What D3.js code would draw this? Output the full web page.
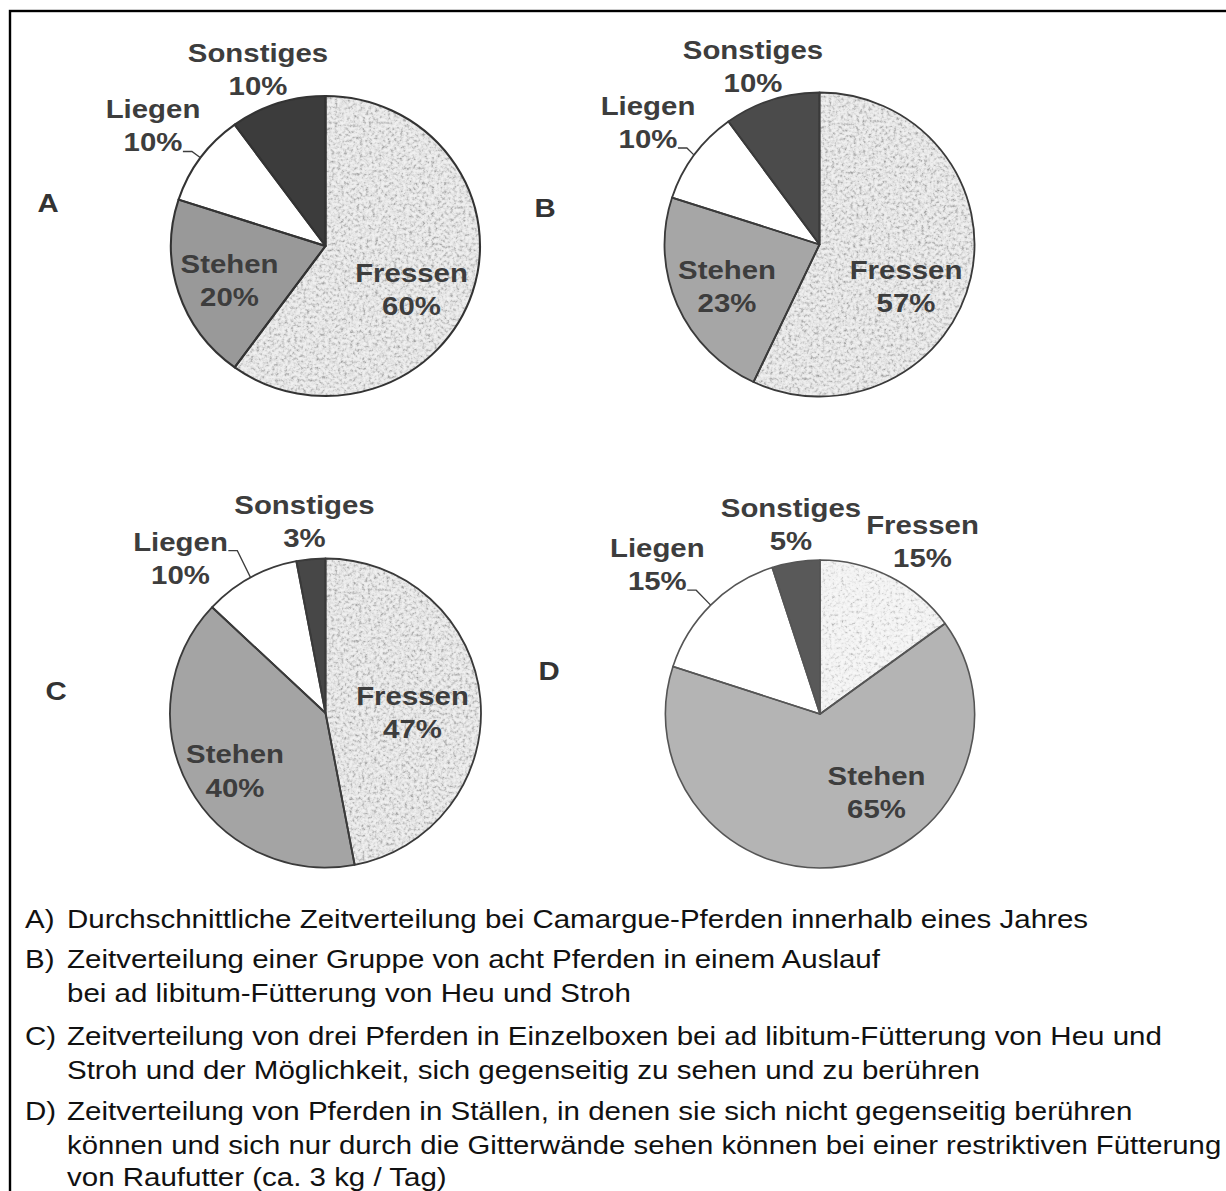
<!DOCTYPE html>
<html lang="de">
<head>
<meta charset="utf-8">
<title>Zeitverteilung bei Pferden</title>
<script src="https://cdn.jsdelivr.net/npm/d3@7/dist/d3.min.js"></script>
<style>
  html, body { margin: 0; padding: 0; background: #fff; }
  svg { display: block; }
  .lbl { font-family: "Liberation Sans", Arial, sans-serif; font-weight: bold; font-size: 26px; fill: #3d3d3d; }
  .panel { font-family: "Liberation Sans", Arial, sans-serif; font-weight: bold; font-size: 26px; fill: #333; }
  .cap { font-family: "Liberation Sans", Arial, sans-serif; font-size: 25px; fill: #111; }
</style>
</head>
<body>
<script>
// ---- data ----
const panels = ["A", "B", "C", "D"];
const categories = ["Fressen", "Stehen", "Liegen", "Sonstiges"];
const valuesA = [60, 20, 10, 10];
const valuesB = [57, 23, 10, 10];
const valuesC = [47, 40, 10, 3];
const valuesD = [15, 65, 15, 5];
const seriesValues = [valuesA, valuesB, valuesC, valuesD];

const captionMarks = ["A)", "B)", "", "C)", "", "D)", "", ""];
const captionLines = [
  "Durchschnittliche Zeitverteilung bei Camargue-Pferden innerhalb eines Jahres",
  "Zeitverteilung einer Gruppe von acht Pferden in einem Auslauf",
  "bei ad libitum-Fütterung von Heu und Stroh",
  "Zeitverteilung von drei Pferden in Einzelboxen bei ad libitum-Fütterung von Heu und",
  "Stroh und der Möglichkeit, sich gegenseitig zu sehen und zu berühren",
  "Zeitverteilung von Pferden in Ställen, in denen sie sich nicht gegenseitig berühren",
  "können und sich nur durch die Gitterwände sehen können bei einer restriktiven Fütterung",
  "von Raufutter (ca. 3 kg / Tag)"
];

// ---- layout ----
const W = 1226, H = 1191;
const labelStretch = 1.13;   // wide bold face
const capStretch = 1.18;     // wide regular face
const capRight = W - 4;      // captions must end before the page edge
const pieLayout = [
  { cx: 325.5, cy: 246, rx: 154.5, ry: 150, panelX: 48, panelY: 212,
    stehen: "#999999", sonst: "#3c3c3c", grain: "grainDense", edge: "#333", edgeW: 2 },
  { cx: 819.5, cy: 244.5, rx: 155, ry: 152, panelX: 545, panelY: 217,
    stehen: "#a6a6a6", sonst: "#4b4b4b", grain: "grainDense", edge: "#3a3a3a", edgeW: 1.8 },
  { cx: 325.5, cy: 713, rx: 155.5, ry: 154.5, panelX: 56, panelY: 700,
    stehen: "#a4a4a4", sonst: "#474747", grain: "grainDense", edge: "#3a3a3a", edgeW: 1.8 },
  { cx: 820, cy: 714, rx: 154.6, ry: 154, panelX: 549, panelY: 680,
    stehen: "#b4b4b4", sonst: "#595959", grain: "grainLight", edge: "#555", edgeW: 1.6 }
];
// label anchor offsets from the pie centre (first-line baseline), per category
const labelOffsets = [
  [[86, 36], [-96, 27], [-172.5, -128], [-67.5, -184]],
  [[86.5, 34], [-92.5, 34], [-171.5, -130], [-66.5, -186]],
  [[87, -8], [-90.5, 50.3], [-145, -162.3], [-21, -199]],
  [[102.5, -180], [56.5, 71], [-162.7, -157.3], [-29, -197]]
];
// which label line carries the leader to the Liegen slice
const leaderLine = [1, 1, 0, 1];
const lineGap = 33.5;

const svg = d3.select("body").append("svg")
  .attr("width", W).attr("height", H);

// grainy fill for the "Fressen" slice
const defs = svg.append("defs");
function grainFilter(id, table, freq, seed) {
  const f = defs.append("filter").attr("id", id)
    .attr("x", "0%").attr("y", "0%").attr("width", "100%").attr("height", "100%")
    .attr("color-interpolation-filters", "sRGB");
  f.append("feTurbulence").attr("type", "fractalNoise")
    .attr("baseFrequency", freq).attr("numOctaves", 3).attr("seed", seed).attr("result", "noise");
  f.append("feColorMatrix").attr("in", "noise").attr("type", "matrix")
    .attr("values", "1 0 0 0 0  1 0 0 0 0  1 0 0 0 0  0 0 0 0 1").attr("result", "grey");
  const ct = f.append("feComponentTransfer").attr("in", "grey").attr("result", "tone");
  ["feFuncR", "feFuncG", "feFuncB"].forEach(fn =>
    ct.append(fn).attr("type", "table").attr("tableValues", table));
  f.append("feComposite").attr("in", "tone").attr("in2", "SourceGraphic").attr("operator", "in");
}
grainFilter("grainDense", "0.58 0.64 0.76 0.87 0.92 0.94 0.95 0.96", 0.33, 5);
grainFilter("grainLight", "0.64 0.74 0.86 0.94 0.96 0.97 0.975 0.98", 0.33, 11);

// frame (its right and bottom sides fall outside the page)
svg.append("rect")
  .attr("x", 10).attr("y", 11).attr("width", W + 40).attr("height", H + 40)
  .attr("fill", "none").attr("stroke", "#000").attr("stroke-width", 2.4);

const pie = d3.pie().sort(null).value(d => d);

panels.forEach((p, i) => {
  const L = pieLayout[i];
  const arcs = pie(seriesValues[i]);
  const arc = d3.arc().innerRadius(0).outerRadius(L.ry);
  const rimArc = d3.arc().innerRadius(L.ry).outerRadius(L.ry);
  const sx = L.rx / L.ry;

  const g = svg.append("g")
    .attr("transform", `translate(${L.cx},${L.cy}) scale(${sx},1)`);

  const fills = ["#000", L.stehen, "#ffffff", L.sonst];
  g.selectAll("path.fill").data(arcs).join("path")
    .attr("class", "fill")
    .attr("d", arc)
    .attr("fill", (d, k) => fills[k])
    .attr("filter", (d, k) => k === 0 ? `url(#${L.grain})` : null);

  g.selectAll("path.edge").data(arcs).join("path")
    .attr("class", "edge")
    .attr("d", arc)
    .attr("fill", "none")
    .attr("stroke", L.edge)
    .attr("stroke-width", L.edgeW)
    .attr("stroke-linejoin", "round");

  // panel letter
  svg.append("text").attr("class", "panel")
    .attr("transform", `translate(${L.panelX},${L.panelY}) scale(${labelStretch},1)`)
    .attr("text-anchor", "middle").text(p);

  // slice labels
  arcs.forEach((a, k) => {
    const [dx, dy] = labelOffsets[i][k];
    const ax = L.cx + dx, ay = L.cy + dy;
    const t = svg.append("text").attr("class", "lbl")
      .attr("text-anchor", "middle")
      .attr("transform", `translate(${ax},${ay}) scale(${labelStretch},1)`);
    const lines = [categories[k], a.data + "%"];
    const spans = lines.map((s, j) => t.append("tspan")
      .attr("x", 0).attr("y", j * lineGap).text(s));

    // leader from the Liegen label to the rim of its slice
    if (k === 2) {
      const j = leaderLine[i];
      const bb = spans[j].node().getBBox();
      const x0 = ax + (bb.x + bb.width) * labelStretch + 0.5;
      const y0 = ay + j * lineGap;
      const [ex, ey] = rimArc.centroid(a);
      svg.append("path")
        .attr("d", d3.line()([[x0, y0], [x0 + 9, y0], [L.cx + ex * sx, L.cy + ey]]))
        .attr("fill", "none").attr("stroke", "#3d3d3d").attr("stroke-width", 1.3);
    }
  });
});

// captions
const capBase = [928, 968, 1001.5, 1045, 1078.5, 1120, 1153.5, 1186];
const capX = 67;
captionLines.forEach((s, i) => {
  if (captionMarks[i]) {
    svg.append("text").attr("class", "cap")
      .attr("transform", `translate(25,${capBase[i]}) scale(${capStretch},1)`)
      .text(captionMarks[i]);
  }
  const t = svg.append("text").attr("class", "cap").text(s);
  const len = t.node().getComputedTextLength();
  const k = Math.min(capStretch, (capRight - capX) / len);
  t.attr("transform", `translate(${capX},${capBase[i]}) scale(${k},1)`);
});
</script>
</body>
</html>
